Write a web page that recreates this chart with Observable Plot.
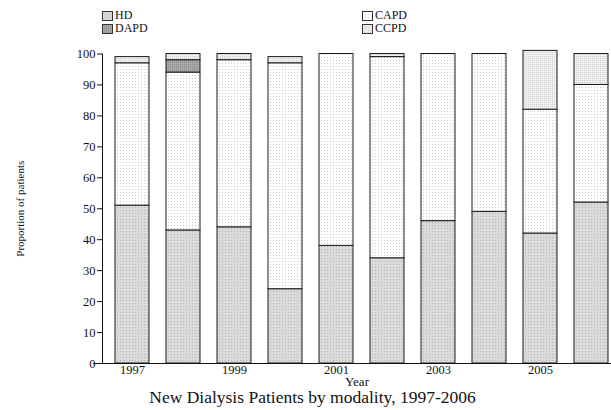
<!DOCTYPE html>
<html>
<head>
<meta charset="utf-8">
<script src="https://cdn.jsdelivr.net/npm/d3@7"></script>
<script src="https://cdn.jsdelivr.net/npm/@observablehq/plot@0.6"></script>
<style>
  html, body { margin: 0; padding: 0; background: white; }
  body { width: 611px; height: 410px; overflow: hidden; position: relative; font-family: "Liberation Serif", "DejaVu Serif", serif; }
  #chart { position: absolute; left: 0; top: 0; }
  #chart svg, #chart svg text { font-family: "Liberation Serif", serif !important; }
  .legrow { position: absolute; display: flex; align-items: center; height: 13.3px; font-family: "Liberation Serif", serif; font-size: 12px; line-height: 13.3px; color: #111; white-space: nowrap; }
  .legrow svg { display: block; margin-right: 2px; }
  #title { position: absolute; left: 0; top: 387px; width: 625px; text-align: center; font-size: 17.5px; line-height: 20px; color: #111; }
</style>
</head>
<body>
<svg width="0" height="0" style="position:absolute">
  <defs>
    <pattern id="pHD" width="3" height="3" patternUnits="userSpaceOnUse">
      <rect width="3" height="3" fill="#dadada"/><rect width="1" height="1" fill="#b5b5b5"/>
    </pattern>
    <pattern id="pCAPD" width="3" height="3" patternUnits="userSpaceOnUse">
      <rect width="3" height="3" fill="#ffffff"/><rect width="1" height="1" fill="#cccccc"/>
    </pattern>
    <pattern id="pCCPD" width="2" height="2" patternUnits="userSpaceOnUse">
      <rect width="2" height="2" fill="#f0f0f0"/><rect width="1" height="1" fill="#cfcfcf"/>
    </pattern>
    <pattern id="pDAPD" width="2" height="2" patternUnits="userSpaceOnUse">
      <rect width="2" height="2" fill="#a8a8a8"/><rect width="1" height="1" fill="#8c8c8c"/>
    </pattern>
  </defs>
</svg>
<div id="chart"></div>
<div id="legend"></div>
<div id="title"></div>
<script>
const years = [1997, 1998, 1999, 2000, 2001, 2002, 2003, 2004, 2005, 2006];
const series = ["HD", "CAPD", "DAPD", "CCPD"];
const hd   = [51, 43, 44, 24, 38, 34, 46, 49, 42, 52];
const capd = [46, 51, 54, 73, 62, 65, 54, 51, 40, 38];
const dapd = [0, 4, 0, 0, 0, 0, 0, 0, 0, 0];
const ccpd = [2, 2, 2, 2, 0, 1, 0, 0, 19, 10];
const yTicks = [0, 10, 20, 30, 40, 50, 60, 70, 80, 90, 100];
const xTickLabels = [1997, 1999, 2001, 2003, 2005];
const legendColumns = [["HD", "DAPD"], ["CAPD", "CCPD"]];
const titleText = "New Dialysis Patients by modality, 1997-2006";
const xLabel = "Year";
const yLabel = "Proportion of patients";

const valuesBySeries = {HD: hd, CAPD: capd, DAPD: dapd, CCPD: ccpd};
const fills = {HD: "url(#pHD)", CAPD: "url(#pCAPD)", DAPD: "url(#pDAPD)", CCPD: "url(#pCCPD)"};

const data = [];
years.forEach((yr, i) => {
  series.forEach(s => {
    const v = valuesBySeries[s][i];
    if (v > 0) data.push({year: yr, series: s, value: v});
  });
});

const FONT = "Liberation Serif";
const plot = Plot.plot({
  width: 611,
  height: 388,
  marginTop: 53.5,
  marginBottom: 25,
  marginLeft: 102,
  marginRight: 0,
  style: {fontFamily: FONT, fontSize: "12.5px", background: "white", overflow: "visible", color: "#111"},
  x: {type: "band", domain: years, range: [92.5, 630], padding: 0.337},
  y: {domain: [0, 100]},
  color: {domain: series, range: series.map(s => fills[s])},
  marks: [
    Plot.barY(data, {x: "year", y: "value", z: "series", fill: "series", stroke: "#1a1a1a", strokeWidth: 1, order: series}),
    Plot.ruleY([0], {insetLeft: -9, stroke: "#111"}),
    Plot.frame({anchor: "left", stroke: "#111"}),
    Plot.axisY({ticks: yTicks, tickSize: 5, tickPadding: 2, label: null, fontSize: 12.5, fontFamily: FONT, tickFormat: d => String(d)}),
    Plot.axisY({ticks: [], tickSize: 0, label: yLabel, labelAnchor: "center", labelArrow: "none", labelOffset: 86, fontSize: 11, fontFamily: FONT}),
    Plot.axisX({ticks: xTickLabels, tickSize: 0, tickPadding: 2, label: null, fontSize: 12.5, fontFamily: FONT, tickFormat: d => String(d)}),
    Plot.axisX({ticks: [], tickSize: 0, label: xLabel, labelAnchor: "center", labelArrow: "none", labelOffset: 22, fontSize: 13, fontFamily: FONT})
  ]
});
document.getElementById("chart").appendChild(plot);

// legend: two columns, each with two rows
const legend = document.getElementById("legend");
const colLeft = [102, 362];
const rowTop = 9.1, rowStep = 13.3;
legendColumns.forEach((col, ci) => {
  col.forEach((s, ri) => {
    const row = document.createElement("div");
    row.className = "legrow";
    row.style.left = colLeft[ci] + "px";
    row.style.top = (rowTop + ri * rowStep) + "px";
    row.innerHTML = `<svg width="11" height="10"><rect x="0.5" y="0.5" width="10" height="9" fill="${fills[s]}" stroke="#333"/></svg><span>${s}</span>`;
    legend.appendChild(row);
  });
});
document.getElementById("title").textContent = titleText;
</script>
</body>
</html>
